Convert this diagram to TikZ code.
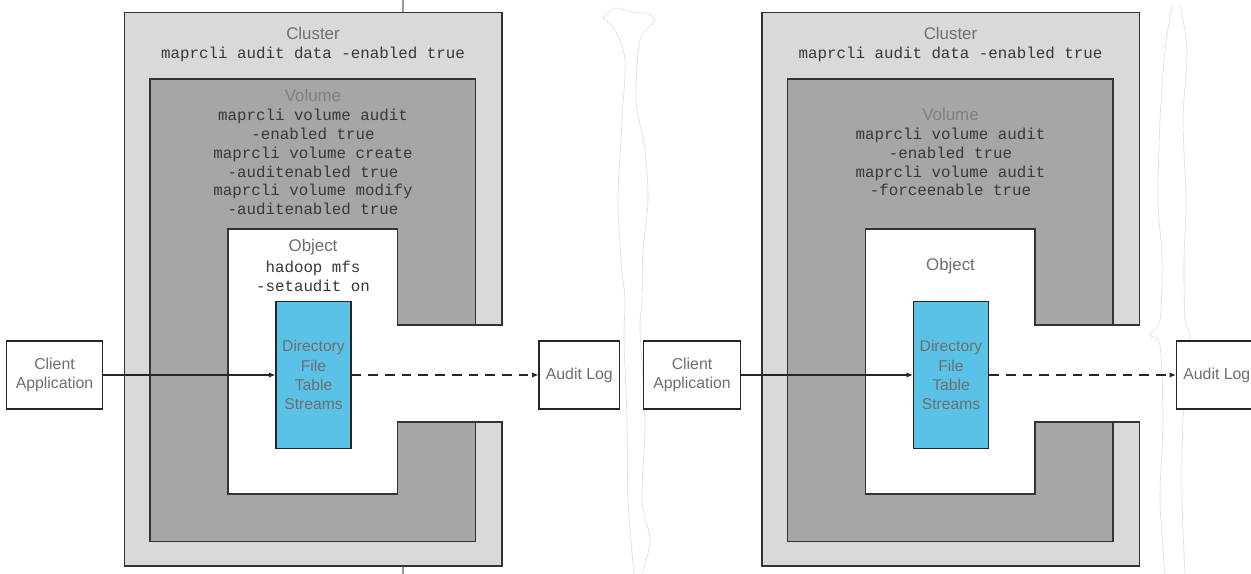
\documentclass[tikz,border=0pt]{standalone}
\usepackage{fontspec}
\setmainfont{Liberation Sans}
\setmonofont{Liberation Mono}
\usetikzlibrary{positioning, arrows.meta}
\definecolor{clusterfill}{HTML}{D9D9D9}
\definecolor{volumefill}{HTML}{A6A6A6}
\definecolor{storefill}{HTML}{5BC2E7}
\definecolor{labelgray}{HTML}{6E6E6E}

\begin{document}
\begin{tikzpicture}[
			x=0.02cm, y=-0.02cm,
			>=Latex,
			wall/.style={draw=black!80, line width=0.9pt},
			headlbl/.style={font=\fontsize{9.6}{11}\selectfont, text=labelgray, inner sep=0pt},
			cmd/.style={font=\ttfamily\fontsize{9}{10.7}\selectfont, text=black!78, align=center, inner sep=0pt},
			endbox/.style={
				draw=black!85, line width=0.8pt, fill=white,
				minimum height=1.36cm, align=center, inner sep=1pt,
				font=\fontsize{9}{10.8}\selectfont, text=labelgray
			},
			store/.style={
				draw=black!85, line width=0.8pt, fill=storefill,
				minimum width=1.5cm, minimum height=2.94cm,
				align=center, font=\fontsize{8.9}{10.9}\selectfont, text=labelgray
			},
			flow/.style={-{Latex[length=3.5pt, width=3pt]}, line width=0.6pt, color=black!85},
			tear/.style={draw=black!14, line width=0.35pt},
			]
			
			\useasboundingbox (0,0) rectangle (1251,574);
			\clip (0,0) rectangle (1251,574);
			
			% ── torn edges ───────────────────────────────────────────────────
			\draw[tear] plot[smooth] coordinates {(603,18) (615,30) (625,60) (622,120) (618,200) (621,260) (625,300) (624,340) (627,420) (628,500) (634,574)};
			\draw[tear] plot[smooth] coordinates {(655,22) (640,40) (636,100) (645,150) (648,200) (643,250) (642,300) (640,330) (645,420) (642,500) (650,540) (642,574)};
			\draw[tear] plot[smooth] coordinates {(603,18) (615,8) (632,12) (650,14) (655,22)};
			\draw[tear] plot[smooth] coordinates {(1172,5) (1165,50) (1160,120) (1158,200) (1162,260) (1160,320) (1150,335) (1160,345) (1163,420) (1160,500) (1165,574)};
			\draw[tear] plot[smooth] coordinates {(1180,5) (1187,50) (1183,120) (1186,200) (1184,260) (1185,320) (1190,340) (1183,420) (1182,500) (1185,574)};
			
			% ── Left: volume audit enabled ───────────────────────────────────
			\draw[draw=black!40, line width=0.6pt] (403,0) -- (403,574);
			
			\draw[wall, fill=clusterfill] (124.5,12.3) rectangle (502,566);
			\node[headlbl] (clusterL) at (313,33) {Cluster};
			\node[cmd] (clustercmdL) at (313,54) {maprcli audit data -enabled true};
			
			\draw[wall, fill=volumefill] (150,79) rectangle (475.7,541.7);
			\node[headlbl, text=black!50] (volumeL) at (313,95) {Volume};
			\node[cmd] (volumecmdL) at (313,162)
			{maprcli volume audit\\-enabled true\\maprcli volume create\\-auditenabled true\\maprcli volume modify\\-auditenabled true};
			
			\fill[white] (228,229) -- (397.5,229) -- (397.5,325) -- (503.5,325) -- (503.5,422)
				-- (397.5,422) -- (397.5,494) -- (228,494) -- cycle;
			\draw[wall] (502.8,325) -- (397.5,325) -- (397.5,229) -- (228,229) -- (228,494)
				-- (397.5,494) -- (397.5,422) -- (502.8,422);
			\node[headlbl] (objectL) at (313,247) {Object};
			\node[cmd] (objectcmdL) at (313,276) {hadoop mfs\\-setaudit on};
			
			\node[store] (storeL) at (313.5,375) {Directory\\File\\Table\\Streams};
			\node[endbox, minimum width=1.93cm] (clientL) at (54.5,375) {Client\\Application};
			\node[endbox, minimum width=1.61cm] (auditL) at (579.3,375) {Audit Log};
			
			\draw[flow] (clientL) -- (storeL);
			\draw[flow, dash pattern=on 5.5pt off 4pt] (storeL) -- (auditL);
			
			% ── Right: volume audit force-enabled ────────────────────────────
			\begin{scope}[shift={(637.5,0)}]
				\draw[wall, fill=clusterfill] (124.5,12.3) rectangle (502,566);
				\node[headlbl] (clusterR) at (313,33) {Cluster};
				\node[cmd] (clustercmdR) at (313,54) {maprcli audit data -enabled true};
				
				\draw[wall, fill=volumefill] (150,79) rectangle (475.7,541.7);
				\node[headlbl, text=black!50] (volumeR) at (313,114) {Volume};
				\node[cmd] (volumecmdR) at (313,162)
				{maprcli volume audit\\-enabled true\\maprcli volume audit\\-forceenable true};
				
				\fill[white] (228,229) -- (397.5,229) -- (397.5,325) -- (503.5,325) -- (503.5,422)
					-- (397.5,422) -- (397.5,494) -- (228,494) -- cycle;
				\draw[wall] (502.8,325) -- (397.5,325) -- (397.5,229) -- (228,229) -- (228,494)
					-- (397.5,494) -- (397.5,422) -- (502.8,422);
				\node[headlbl] (objectR) at (313,266) {Object};
				
				\node[store] (storeR) at (313.5,375) {Directory\\File\\Table\\Streams};
				\node[endbox, minimum width=1.93cm] (clientR) at (54.5,375) {Client\\Application};
				\node[endbox, minimum width=1.61cm] (auditR) at (579.3,375) {Audit Log};
				
				\draw[flow] (clientR) -- (storeR);
				\draw[flow, dash pattern=on 5.5pt off 4pt] (storeR) -- (auditR);
			\end{scope}
			
		\end{tikzpicture}
\end{document}
